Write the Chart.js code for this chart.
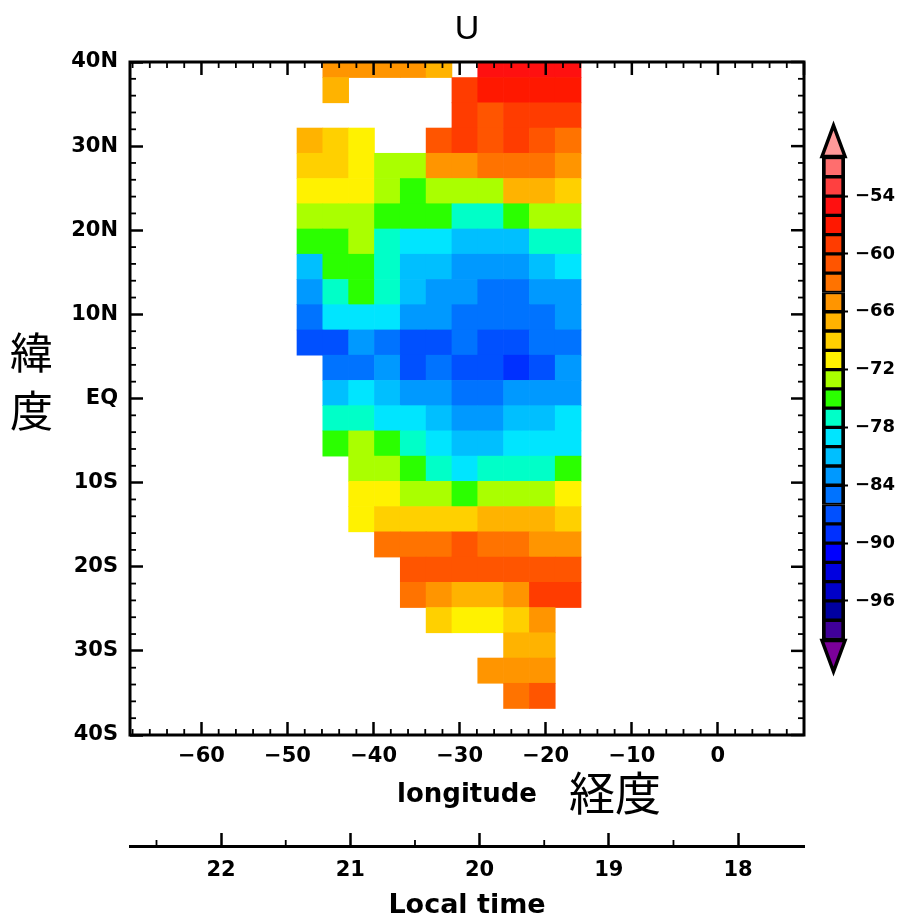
<!DOCTYPE html>
<html>
<head>
<meta charset="utf-8">
<title>U</title>
<script src="https://cdn.jsdelivr.net/npm/chart.js@4"></script>
<style>
  html, body { margin: 0; padding: 0; background: #fff; overflow: hidden; }
  #page { position: relative; width: 900px; height: 919px; filter: blur(0.6px); }
  canvas { position: absolute; display: block; }
  .jp { position: absolute; font-family: "Noto Sans CJK JP"; color: #000; }
</style>
</head>
<body>
<div id="page">
  <canvas id="map" width="900" height="919" style="left:0;top:0"></canvas>
  <canvas id="bar" width="90" height="565" style="left:810px;top:115px"></canvas>
  <div class="jp" style="left:10px;top:321px;font-size:43px;line-height:58px">緯<br>度</div>
  <div class="jp" style="left:569px;top:758px;font-size:46px;line-height:64px;white-space:nowrap">経度</div>
</div>
<script>
const _ = null;

// cell centres, 3 degree boxes, as they sit in the picture
const lons = [-47.4, -44.4, -41.4, -38.4, -35.4, -32.4, -29.4, -26.4, -23.4, -20.4, -17.4];
const lats = [39.65, 36.65, 33.65, 30.65, 27.65, 24.65, 21.65, 18.65, 15.65, 12.65, 9.65, 6.65, 3.65, 0.65,
              -2.35, -5.35, -8.35, -11.35, -14.35, -17.35, -20.35, -23.35, -26.35, -29.35, -32.35, -35.35];

// U, one row per latitude
const uRows = [
  [  _, -65, -65, -65, -65, -67,   _, -55, -55, -55, -55],
  [  _, -67,   _,   _,   _,   _, -59, -57, -57, -57, -57],
  [  _,   _,   _,   _,   _,   _, -59, -61, -59, -59, -59],
  [-67, -69, -71,   _,   _, -61, -59, -61, -59, -61, -63],
  [-69, -69, -71, -73, -73, -65, -65, -63, -63, -63, -65],
  [-71, -71, -71, -73, -75, -73, -73, -73, -67, -67, -69],
  [-73, -73, -73, -75, -75, -75, -77, -77, -75, -73, -73],
  [-75, -75, -73, -77, -79, -79, -81, -81, -81, -77, -77],
  [-81, -75, -75, -77, -81, -81, -83, -83, -83, -81, -79],
  [-83, -77, -75, -77, -81, -83, -83, -85, -85, -83, -83],
  [-85, -79, -79, -79, -83, -83, -85, -85, -85, -85, -83],
  [-87, -87, -83, -85, -87, -87, -85, -87, -87, -85, -85],
  [  _, -85, -85, -83, -87, -85, -87, -87, -89, -87, -83],
  [  _, -81, -79, -81, -83, -83, -85, -85, -83, -83, -83],
  [  _, -77, -77, -79, -79, -81, -83, -83, -81, -81, -79],
  [  _, -75, -73, -75, -77, -79, -81, -81, -79, -79, -79],
  [  _,   _, -73, -73, -75, -77, -79, -77, -77, -77, -75],
  [  _,   _, -71, -71, -73, -73, -75, -73, -73, -73, -71],
  [  _,   _, -71, -69, -69, -69, -69, -67, -67, -67, -69],
  [  _,   _,   _, -63, -63, -63, -61, -63, -63, -65, -65],
  [  _,   _,   _,   _, -61, -61, -61, -61, -61, -61, -61],
  [  _,   _,   _,   _, -63, -65, -67, -67, -65, -59, -59],
  [  _,   _,   _,   _,   _, -69, -71, -71, -69, -65,   _],
  [  _,   _,   _,   _,   _,   _,   _,   _, -67, -67,   _],
  [  _,   _,   _,   _,   _,   _,   _, -65, -65, -65,   _],
  [  _,   _,   _,   _,   _,   _,   _,   _, -63, -61,   _]
];

// colour bar, top to bottom, 2 units a box
const levelTops = [-50, -52, -54, -56, -58, -60, -62, -64, -66, -68, -70, -72, -74,
                   -76, -78, -80, -82, -84, -86, -88, -90, -92, -94, -96, -98];
const levelColors = ['#ff6e6e', '#ff4040', '#ff1010', '#ff1800', '#ff3c00', '#ff5500', '#ff7300',
                     '#ff9500', '#ffb300', '#ffd000', '#fff200', '#aaff00', '#2bff00',
                     '#00ffc8', '#00e5ff', '#00bfff', '#0099ff', '#0073ff', '#0050ff',
                     '#0030ff', '#0000ff', '#0000e0', '#0000c8', '#0000a0', '#400099'];
const overColor = '#ff9a9a';
const underColor = '#7b0099';

const lonTicks = [-60, -50, -40, -30, -20, -10, 0];
const latTicks = [40, 30, 20, 10, 0, -10, -20, -30, -40];
const latLabels = ['40N', '30N', '20N', '10N', 'EQ', '10S', '20S', '30S', '40S'];
const timeTicks = [22, 21, 20, 19, 18];
const barTicks = [-54, -60, -66, -72, -78, -84, -90, -96];

const tickFont = { family: '"DejaVu Sans"', size: 21, weight: 'bold' };
const titleFont = { family: '"DejaVu Sans"', size: 26, weight: 'bold', lineHeight: 1 };

function colorFor(v) {
  for (let i = 0; i < levelTops.length; i++) {
    if (v <= levelTops[i] && v > levelTops[i] - 2) return levelColors[i];
  }
  return v > levelTops[0] ? overColor : underColor;
}

function setTicks(values) {
  return scale => { scale.ticks = values.map(v => ({ value: v })); };
}

function minus(v) {
  return v < 0 ? '\u2212' + Math.abs(v) : String(v);
}

// minor ticks and the top/right sides, chart.js only does one tick length per axis
const frameTicks = {
  id: 'frameTicks',
  afterDatasetsDraw(chart) {
    const { ctx, chartArea: a, scales } = chart;
    const line = (x1, y1, x2, y2, w) => {
      ctx.lineWidth = w;
      ctx.beginPath();
      ctx.moveTo(x1, y1);
      ctx.lineTo(x2, y2);
      ctx.stroke();
    };
    ctx.save();
    ctx.strokeStyle = '#000';
    for (let lon = -68; lon <= 10; lon += 2) {
      const x = scales.x.getPixelForValue(lon);
      const major = lon % 10 === 0;
      const len = major ? 13 : 6;
      line(x, a.top, x, a.top + len, major ? 2.5 : 1.8);
      if (!major) line(x, a.bottom, x, a.bottom - len, 1.8);
    }
    for (let lat = -40; lat <= 40; lat += 2) {
      const y = scales.y.getPixelForValue(lat);
      const major = lat % 10 === 0;
      const len = major ? 13 : 6;
      line(a.right, y, a.right - len, y, major ? 2.5 : 1.8);
      if (!major) line(a.left, y, a.left + len, y, 1.8);
    }
    for (let t = 18.5; t <= 22.5; t++) {
      const x = scales.xTime.getPixelForValue(t);
      line(x, scales.xTime.top, x, scales.xTime.top - 6, 1.8);
    }
    ctx.lineWidth = 3;
    ctx.strokeRect(a.left, a.top, a.right - a.left, a.bottom - a.top);
    ctx.restore();
  }
};

const cells = [];
uRows.forEach((row, r) => {
  row.forEach((v, c) => {
    if (v !== null) cells.push({ x: lons[c], y: [lats[r] - 1.5, lats[r] + 1.5], u: v });
  });
});

new Chart(document.getElementById('map'), {
  type: 'bar',
  data: {
    datasets: [{
      label: 'U',
      data: cells,
      backgroundColor: ctx => (ctx.raw ? colorFor(ctx.raw.u) : '#fff'),
      borderWidth: 0,
      grouped: false,
      barPercentage: 1,
      categoryPercentage: 1
    }]
  },
  plugins: [frameTicks],
  options: {
    responsive: false,
    animation: false,
    layout: { padding: { left: 70, right: 96, top: 13, bottom: 0 } },
    plugins: {
      legend: { display: false },
      tooltip: { enabled: false },
      title: {
        display: true,
        text: 'U',
        fullSize: false,
        color: '#000',
        font: { family: '"Liberation Sans"', size: 34, weight: 'normal', lineHeight: 1 },
        padding: { top: 0, bottom: 15 }
      }
    },
    scales: {
      x: {
        type: 'linear',
        min: -68.3,
        max: 10,
        offset: false,
        weight: 0,
        afterBuildTicks: setTicks(lonTicks),
        afterFit: s => { s.height = 111; },
        border: { display: false },
        grid: { offset: false, drawOnChartArea: false, tickLength: -13, tickWidth: 2.5, tickColor: '#000' },
        ticks: { padding: 22, color: '#000', font: tickFont, maxRotation: 0, callback: minus },
        title: { display: true, text: 'longitude', color: '#000', font: titleFont, padding: { top: 0, bottom: 38 } }
      },
      xTime: {
        type: 'linear',
        position: 'bottom',
        min: 17.49,
        max: 22.705,
        reverse: true,
        offset: false,
        weight: 1,
        afterBuildTicks: setTicks(timeTicks),
        afterFit: s => { s.height = 73; },
        border: { display: true, width: 3, color: '#000' },
        grid: { offset: false, drawOnChartArea: false, tickLength: -13, tickWidth: 2.5, tickColor: '#000' },
        ticks: { padding: 25, color: '#000', font: tickFont, maxRotation: 0 },
        title: { display: true, text: 'Local time', color: '#000', font: { family: '"DejaVu Sans"', size: 27, weight: 'bold', lineHeight: 1 }, padding: 0 }
      },
      y: {
        type: 'linear',
        min: -40,
        max: 40,
        afterBuildTicks: setTicks(latTicks),
        afterFit: s => { s.width = 60; },
        border: { display: false },
        grid: { drawOnChartArea: false, tickLength: -13, tickWidth: 2.5, tickColor: '#000' },
        ticks: {
          padding: 25,
          color: '#000',
          font: tickFont,
          callback: v => latLabels[latTicks.indexOf(v)]
        }
      }
    }
  }
});

// end triangles of the colour bar
const barEnds = {
  id: 'barEnds',
  afterDatasetsDraw(chart) {
    const { ctx, chartArea: a } = chart;
    const mid = (a.left + a.right) / 2;
    const tri = (baseY, tipY, fill) => {
      ctx.beginPath();
      ctx.moveTo(a.left, baseY);
      ctx.lineTo(mid, tipY);
      ctx.lineTo(a.right, baseY);
      ctx.closePath();
      ctx.fillStyle = fill;
      ctx.fill();
      ctx.stroke();
    };
    ctx.save();
    ctx.strokeStyle = '#000';
    ctx.lineWidth = 3.5;
    ctx.lineJoin = 'miter';
    tri(a.top - 1, a.top - 32, overColor);
    tri(a.bottom + 1, a.bottom + 32, underColor);
    ctx.restore();
  }
};

new Chart(document.getElementById('bar'), {
  type: 'bar',
  data: {
    labels: [''],
    datasets: levelTops.map((top, i) => ({
      label: String(top),
      data: [[top - 2, top]],
      backgroundColor: levelColors[i],
      borderColor: '#000',
      borderWidth: { top: 2, bottom: 2, left: 4, right: 4 },
      borderSkipped: false,
      grouped: false,
      barPercentage: 1,
      categoryPercentage: 1
    }))
  },
  plugins: [barEnds],
  options: {
    responsive: false,
    animation: false,
    layout: { padding: { left: 12, right: 0, top: 42.5, bottom: 40.5 } },
    plugins: { legend: { display: false }, tooltip: { enabled: false } },
    scales: {
      x: { display: false },
      y: {
        position: 'right',
        min: -100,
        max: -50,
        afterBuildTicks: setTicks(barTicks),
        afterFit: s => { s.width = 55; },
        border: { display: false },
        grid: { drawOnChartArea: false, tickLength: 3, tickWidth: 2, tickColor: '#000' },
        ticks: {
          padding: 7,
          color: '#000',
          font: { family: '"DejaVu Sans"', size: 18, weight: 'bold' },
          callback: minus
        }
      }
    }
  }
});
</script>
</body>
</html>
